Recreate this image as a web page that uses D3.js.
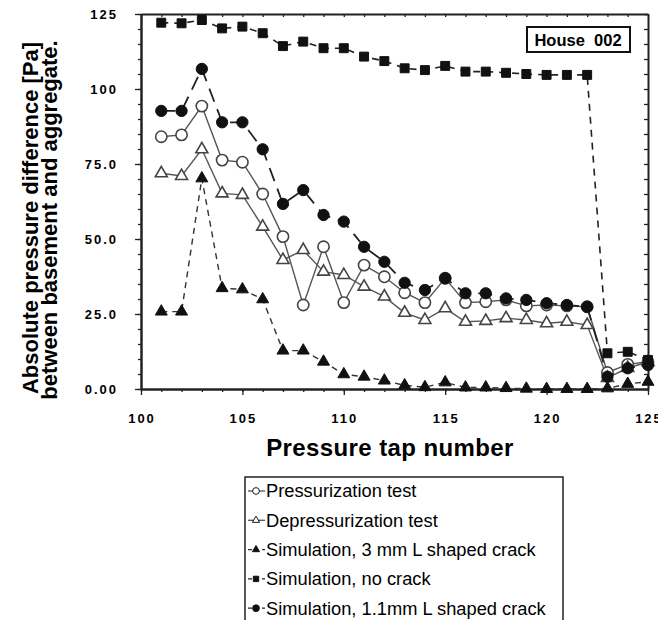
<!DOCTYPE html>
<html>
<head>
<meta charset="utf-8">
<script src="https://cdn.jsdelivr.net/npm/d3@7"></script>
<style>
  body { margin: 0; background: #fff; }
  svg { display: block; font-family: "Liberation Sans", Arial, sans-serif; }
</style>
</head>
<body>
<div id="chart"></div>
<script>
// pressure taps 101..125
var taps = d3.range(101, 126);

var pressurization = [84.1, 84.7, 94.3, 76.3, 75.6, 65.0, 50.8, 28.0, 47.4, 28.8, 41.3, 37.4, 32.1,
  28.8, 36.9, 28.8, 29.1, 29.7, 27.7, 28.0, 27.7, 27.4, 5.5, 8.2, 9.1];
var depressurization = [71.9, 71.0, 79.9, 65.2, 64.7, 54.1, 43.0, 46.3, 39.1, 38.0, 34.1, 30.8, 25.4,
  23.0, 26.9, 22.4, 22.7, 23.6, 23.0, 21.9, 22.4, 21.3, 3.7, 7.0, 9.0];
var sim3mm = [25.8, 25.8, 70.2, 33.6, 33.2, 29.9, 12.8, 12.8, 9.1, 4.9, 4.1, 2.8, 1.2,
  0.6, 2.2, 0.5, 0.5, 0.3, 0.1, 0.0, 0.0, 0.0, 0.2, 1.7, 2.4];
var simNoCrack = [122.1, 121.9, 123.0, 120.2, 120.8, 118.6, 114.3, 115.8, 113.6, 113.6, 110.8, 109.3, 106.9,
  106.3, 107.7, 105.8, 105.8, 105.4, 105.0, 104.7, 104.7, 104.7, 11.9, 12.4, 9.7];
var sim11mm = [92.7, 92.7, 106.7, 88.9, 88.9, 79.9, 61.7, 66.3, 58.0, 55.8, 47.4, 42.4, 35.4,
  33.0, 36.9, 31.9, 31.9, 30.2, 29.7, 28.6, 28.0, 27.4, 4.1, 6.9, 8.0];

var yTicks = [0, 25, 50, 75, 100, 125];
var yTickLabels = ["0.00", "25.0", "50.0", "75.0", "100", "125"];
var xTicks = [100, 105, 110, 115, 120, 125];

var seriesNames = ["Pressurization test", "Depressurization test", "Simulation, 3 mm L shaped crack",
  "Simulation, no crack", "Simulation, 1.1mm L shaped crack"];

var width = 658, height = 620;
var margin = {top: 14, right: 10, bottom: 231, left: 141};
var w = 648 - margin.left, h = 389 - margin.top;

var svg = d3.select("#chart").append("svg")
    .attr("width", width)
    .attr("height", height);

var g = svg.append("g")
    .attr("transform", "translate(" + margin.left + "," + margin.top + ")");

var x = d3.scaleLinear().domain([100, 125]).range([0, w]);
var y = d3.scaleLinear().domain([0, 125]).range([h, 0]);

// axes: minor ticks then major ones, on all four sides
function styleAxis(sel) {
  sel.selectAll("path").attr("stroke", "#222").attr("stroke-width", 2);
  sel.selectAll("line").attr("stroke", "#222").attr("stroke-width", 1.3);
  sel.selectAll("text").remove();
}
g.append("g").call(d3.axisLeft(y).tickValues(d3.range(0, 126, 5)).tickSize(3).tickSizeOuter(0)).call(styleAxis);
g.append("g").call(d3.axisLeft(y).tickValues(yTicks).tickSize(6).tickSizeOuter(0)).call(styleAxis);
g.append("g").attr("transform", "translate(" + w + ",0)")
  .call(d3.axisLeft(y).tickValues(d3.range(0, 126, 5)).tickSize(4).tickSizeOuter(0)).call(styleAxis);
g.append("g").attr("transform", "translate(0," + h + ")")
  .call(d3.axisBottom(x).tickValues(taps.concat([100])).tickSize(3).tickSizeOuter(0)).call(styleAxis);
g.append("g").attr("transform", "translate(0," + h + ")")
  .call(d3.axisBottom(x).tickValues(xTicks).tickSize(6).tickSizeOuter(0)).call(styleAxis);
g.append("g")
  .call(d3.axisTop(x).tickValues(taps.concat([100])).tickSize(-3).tickSizeOuter(0)).call(styleAxis);

// tick labels
g.selectAll(".ylab").data(yTicks).enter().append("text")
    .attr("x", -23).attr("y", function(d) { return y(d); })
    .attr("dy", "0.35em")
    .attr("text-anchor", "end")
    .style("font-size", "13px").style("font-weight", "bold").style("letter-spacing", "2px")
    .text(function(d, i) { return yTickLabels[i]; });
g.selectAll(".xlab").data(xTicks).enter().append("text")
    .attr("x", function(d) { return x(d) + 1; }).attr("y", h + 34)
    .attr("text-anchor", "middle")
    .style("font-size", "13px").style("font-weight", "bold").style("letter-spacing", "2px")
    .text(function(d) { return d; });

// axis titles
svg.append("text")
    .attr("x", 390).attr("y", 456)
    .attr("text-anchor", "middle")
    .style("font-size", "24px").style("font-weight", "bold").style("letter-spacing", "0.4px")
    .text("Pressure tap number");
svg.append("text")
    .attr("transform", "translate(38,218) rotate(-90)")
    .attr("text-anchor", "middle")
    .style("font-size", "22px").style("font-weight", "bold")
    .text("Absolute pressure difference [Pa]");
svg.append("text")
    .attr("transform", "translate(57,220) rotate(-90)")
    .attr("text-anchor", "middle")
    .style("font-size", "22px").style("font-weight", "bold")
    .text("between basement and aggregate.");

// House label
var hb = svg.append("g").attr("transform", "translate(527,27)");
hb.append("rect").attr("width", 103).attr("height", 25)
  .attr("fill", "#fff").attr("stroke", "#111").attr("stroke-width", 2);
hb.append("text").attr("x", 51).attr("y", 18.5).attr("text-anchor", "middle")
  .style("font-size", "16.5px").style("font-weight", "bold")
  .attr("xml:space", "preserve")
  .text("House  002");

// series
var line = d3.line().x(function(d, i) { return x(taps[i]); }).y(function(d) { return y(d); });

var series = [
  {values: pressurization, dash: null, stroke: "#555", width: 1.4, marker: "circle", fill: "#fff"},
  {values: depressurization, dash: null, stroke: "#555", width: 1.4, marker: "triangle", fill: "#fff"},
  {values: sim3mm, dash: "6,5", stroke: "#333", width: 1.4, marker: "triangle", fill: "#111"},
  {values: simNoCrack, dash: "7,6", stroke: "#222", width: 1.6, marker: "square", fill: "#111"},
  {values: sim11mm, dash: "14,8", stroke: "#222", width: 1.8, marker: "circle", fill: "#111"}
];

var sym = {
  circle: d3.symbol().type(d3.symbolCircle).size(100),
  triangle: d3.symbol().type(d3.symbolTriangle).size(62),
  square: d3.symbol().type(d3.symbolSquare).size(80)
};

series.forEach(function(s) {
  g.append("path").datum(s.values)
    .attr("d", line)
    .attr("fill", "none")
    .attr("stroke", s.stroke)
    .attr("stroke-width", s.width)
    .attr("stroke-dasharray", s.dash);
});
series.forEach(function(s) {
  g.selectAll(null).data(s.values).enter().append("path")
    .attr("transform", function(d, i) { return "translate(" + x(taps[i]) + "," + y(d) + ")"; })
    .attr("d", sym[s.marker])
    .attr("fill", s.fill)
    .attr("stroke", s.fill === "#fff" ? "#444" : "#111")
    .attr("stroke-width", s.fill === "#fff" ? 1.6 : 1);
});

// legend
var leg = svg.append("g").attr("transform", "translate(245,477)");
leg.append("rect").attr("width", 318).attr("height", 145)
  .attr("fill", "#fff").attr("stroke", "#222").attr("stroke-width", 1.5);
var items = leg.selectAll(".item").data(series).enter().append("g")
  .attr("transform", function(d, i) { return "translate(0," + (14 + i * 29.3) + ")"; });
items.append("line").attr("x1", 3).attr("x2", 20)
  .attr("stroke", function(d) { return d.stroke; }).attr("stroke-width", 1.3)
  .attr("stroke-dasharray", function(d) { return d.dash ? "4,3" : null; });
items.append("path").attr("transform", "translate(11,0) scale(0.6)")
  .attr("d", function(d) { return sym[d.marker](); })
  .attr("fill", function(d) { return d.fill; })
  .attr("stroke", "#111").attr("stroke-width", 1.6);
items.append("text").attr("x", 21).attr("dy", "0.35em")
  .style("font-size", "18.3px")
  .text(function(d, i) { return seriesNames[i]; });
</script>
</body>
</html>
